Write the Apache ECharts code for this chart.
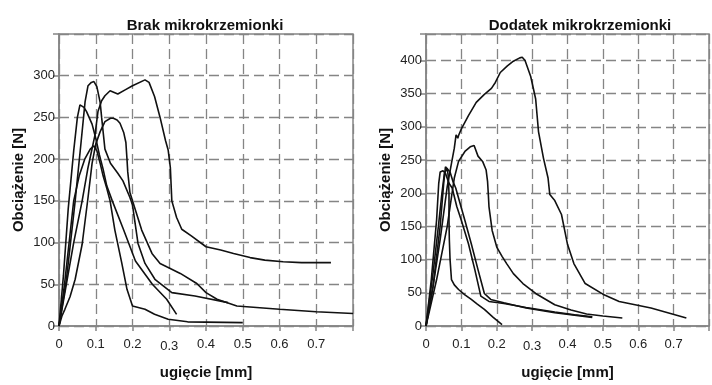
<!DOCTYPE html>
<html>
<head>
<meta charset="utf-8">
<script src="https://cdn.jsdelivr.net/npm/echarts@6/dist/echarts.min.js"></script>
<style>
  html, body { margin: 0; padding: 0; background: #fff; }
  #main { width: 712px; height: 385px; }
</style>
</head>
<body>
<div id="main"></div>
<script>
// Brak mikrokrzemionki - krzywe [ugięcie mm, obciążenie N]
var brakA = [[0,0],[0.02,50],[0.04,100],[0.063,150],[0.079,190],[0.098,229],[0.106,257],[0.116,270],[0.125,276],[0.139,282],[0.16,278],[0.18,283],[0.2,288],[0.234,295],[0.245,292],[0.26,275],[0.275,250],[0.29,222],[0.297,211],[0.303,190],[0.307,150],[0.32,130],[0.334,116],[0.36,108],[0.4,95],[0.44,91],[0.475,87],[0.52,82],[0.56,79],[0.61,77],[0.66,76],[0.74,76]];
var brakB = [[0,0],[0.02,55],[0.044,150],[0.06,220],[0.071,269],[0.079,288],[0.088,292],[0.095,293],[0.103,287],[0.112,268],[0.116,250],[0.125,212],[0.14,195],[0.16,183],[0.174,174],[0.193,154],[0.2,145],[0.215,99],[0.234,75],[0.261,56],[0.307,40],[0.37,36],[0.46,28]];
var brakC = [[0,0],[0.012,60],[0.025,140],[0.04,210],[0.05,250],[0.057,265],[0.062,266],[0.068,262],[0.075,257],[0.09,242],[0.1,225],[0.11,205],[0.12,188],[0.13,168],[0.145,150],[0.176,115],[0.208,78],[0.254,50],[0.293,32],[0.32,14]];
var brakD = [[0,0],[0.008,12],[0.016,20],[0.03,35],[0.044,56],[0.063,98],[0.079,154],[0.09,195],[0.1,218],[0.112,233],[0.125,245],[0.14,249],[0.148,249],[0.158,247],[0.166,243],[0.176,232],[0.182,220],[0.185,200],[0.187,185],[0.193,160],[0.2,150],[0.225,115],[0.253,87],[0.275,75],[0.293,71],[0.33,63],[0.375,51],[0.4,40],[0.43,32],[0.484,24],[0.6,20],[0.7,17],[0.8,15]];
var brakE = [[0,0],[0.015,50],[0.03,110],[0.04,150],[0.055,180],[0.07,200],[0.085,212],[0.095,216],[0.103,210],[0.112,195],[0.12,180],[0.13,165],[0.139,150],[0.152,115],[0.171,75],[0.185,44],[0.2,24],[0.234,20],[0.26,14],[0.297,8],[0.35,5],[0.5,4]];

// Dodatek mikrokrzemionki
var dodA = [[0,0],[0.02,60],[0.04,130],[0.06,210],[0.072,245],[0.08,268],[0.085,288],[0.09,283],[0.092,287],[0.1,297],[0.12,317],[0.142,337],[0.165,349],[0.185,358],[0.196,367],[0.21,382],[0.23,392],[0.247,399],[0.265,404],[0.272,405],[0.28,400],[0.296,376],[0.31,342],[0.318,293],[0.332,253],[0.345,223],[0.35,198],[0.364,189],[0.383,168],[0.4,123],[0.418,94],[0.45,64],[0.5,48],[0.546,37],[0.636,27],[0.736,12]];
var dodB = [[0,0],[0.03,70],[0.06,150],[0.075,205],[0.08,223],[0.092,248],[0.11,263],[0.125,270],[0.136,272],[0.147,256],[0.16,248],[0.17,235],[0.174,218],[0.176,200],[0.178,180],[0.187,144],[0.2,119],[0.215,105],[0.228,94],[0.247,79],[0.274,64],[0.31,49],[0.364,32],[0.41,24],[0.454,18],[0.5,15],[0.555,12]];
var dodC = [[0,0],[0.02,80],[0.035,150],[0.045,200],[0.052,230],[0.06,238],[0.063,225],[0.065,200],[0.065,159],[0.066,130],[0.068,100],[0.072,70],[0.08,62],[0.092,55],[0.11,47],[0.128,40],[0.145,33],[0.165,25],[0.19,13],[0.215,2]];
var dodD = [[0,0],[0.015,70],[0.03,160],[0.036,215],[0.04,232],[0.048,234],[0.055,230],[0.065,215],[0.074,208],[0.087,180],[0.1,159],[0.12,124],[0.138,85],[0.155,45],[0.178,37],[0.22,34],[0.283,28],[0.364,21],[0.42,17],[0.47,14]];
var dodE = [[0,0],[0.02,60],[0.04,150],[0.05,215],[0.055,240],[0.06,242],[0.068,232],[0.076,218],[0.084,208],[0.11,159],[0.128,124],[0.147,85],[0.165,49],[0.183,40],[0.22,35],[0.283,27],[0.364,20],[0.47,13]];

var titles = ['Brak mikrokrzemionki', 'Dodatek mikrokrzemionki'];
var xName = 'ugięcie [mm]';
var yName = 'Obciążenie [N]';
var yLabelMax = [300, 400];

var font = '"Liberation Sans", Arial, sans-serif';
var gray = '#858585';

function xAxis(idx) {
    return {
        gridIndex: idx, type: 'value', min: 0, max: 0.8, interval: 0.1,
        name: xName, nameLocation: 'middle', nameGap: 39,
        nameTextStyle: { fontFamily: font, fontWeight: 'bold', fontSize: 15, color: '#111' },
        axisLine: { show: true, lineStyle: { color: gray, width: 1.5 } },
        axisTick: { show: true, length: 5, lineStyle: { color: gray, width: 1.5 } },
        axisLabel: {
            margin: 12, fontFamily: font, fontSize: 13, color: '#222',
            formatter: function (v) {
                var r = Math.round(v * 10) / 10;
                if (r >= 0.8) return '';
                if (r === 0.3) return '{low|0.3}';
                return r === 0 ? '0' : r.toFixed(1);
            },
            rich: { low: { fontFamily: font, fontSize: 13, color: '#222', padding: [2, 0, 0, 0] } }
        },
        splitLine: { show: true, lineStyle: { color: gray, width: 1.3, type: [10, 5] } }
    };
}

function yAxis(idx, max) {
    return {
        gridIndex: idx, type: 'value', min: 0, max: max, interval: 50,
        name: yName, nameLocation: 'middle', nameGap: 33, nameRotate: 90,
        nameTextStyle: { fontFamily: font, fontWeight: 'bold', fontSize: 15, color: '#111' },
        axisLine: { show: true, lineStyle: { color: gray, width: 1.5 } },
        axisTick: { show: true, length: 6, lineStyle: { color: gray, width: 1.5 } },
        axisLabel: {
            margin: 4, fontFamily: font, fontSize: 13, color: '#222',
            formatter: function (v) {
                if (v % 50 !== 0 || v > yLabelMax[idx]) return '';
                return String(v);
            }
        },
        splitLine: { show: true, lineStyle: { color: gray, width: 1.3, type: [10, 5] } }
    };
}

function curve(idx, data) {
    return {
        type: 'line', xAxisIndex: idx, yAxisIndex: idx, data: data,
        showSymbol: false, symbol: 'none', smooth: false,
        lineStyle: { color: '#111', width: 1.6 }
    };
}

var chart = echarts.init(document.getElementById('main'));
chart.setOption({
    animation: false,
    backgroundColor: '#fff',
    title: [
        { text: titles[0], left: 200, top: 13, textAlign: 'center',
          textStyle: { fontFamily: font, fontWeight: 'bold', fontSize: 15, color: '#111' } },
        { text: titles[1], left: 575, top: 13, textAlign: 'center',
          textStyle: { fontFamily: font, fontWeight: 'bold', fontSize: 15, color: '#111' } }
    ],
    grid: [
        { left: 59, top: 34, width: 294, height: 296, show: true, borderColor: gray, borderWidth: 1.5 },
        { left: 426, top: 34, width: 294, height: 296, show: true, borderColor: gray, borderWidth: 1.5 }
    ],
    xAxis: [xAxis(0), xAxis(1)],
    yAxis: [yAxis(0, 350), yAxis(1, 440)],
    series: [
        curve(0, brakA), curve(0, brakB), curve(0, brakC), curve(0, brakD), curve(0, brakE),
        curve(1, dodA), curve(1, dodB), curve(1, dodC), curve(1, dodD), curve(1, dodE)
    ]
});
</script>
</body>
</html>
